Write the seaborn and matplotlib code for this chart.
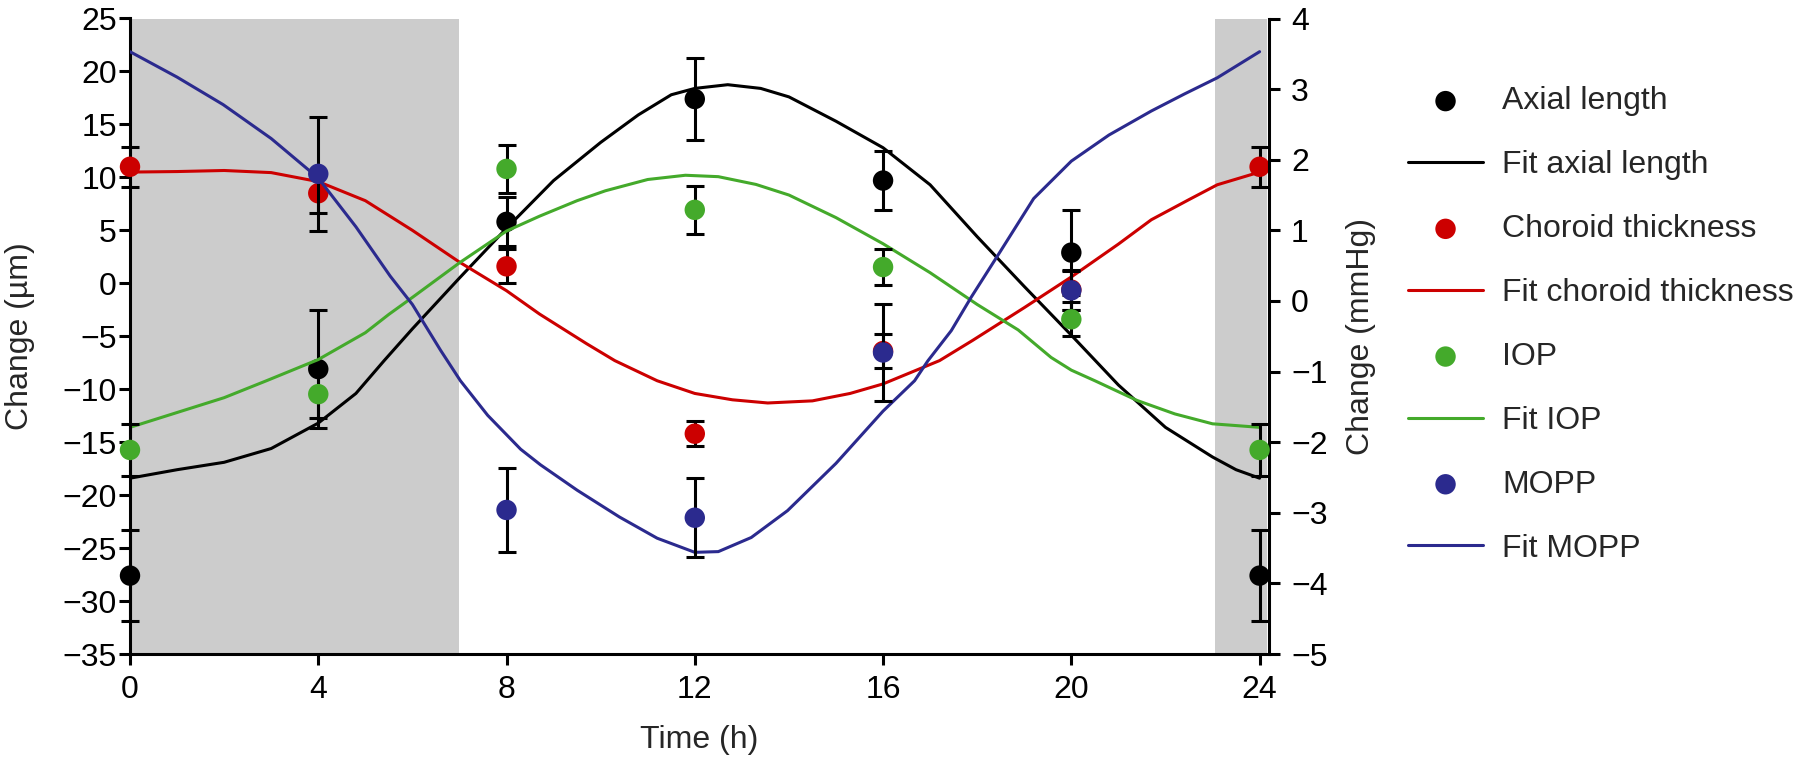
import matplotlib
matplotlib.use("Agg")
import matplotlib.pyplot as plt
import seaborn as sns

sns.set_theme(style="ticks")
plt.rcParams['font.family'] = ['Liberation Sans', 'DejaVu Sans']
plt.rcParams['axes.unicode_minus'] = True

# ---------------- data ----------------
times = [0, 4, 8, 12, 16, 20, 24]
axial = [-27.6, -8.1, 5.8, 17.4, 9.7, 2.9, -27.6]
axial_err = [4.3, 5.6, 2.3, 3.9, 2.75, 4.0, 4.3]
choroid = [11.0, 8.5, 1.6, -14.2, -6.4, -0.6, 11.0]
choroid_err = [1.9, 1.9, 1.6, 1.2, 1.6, 1.9, 1.9]
iop = [-2.11, -1.32, 1.87, 1.29, 0.48, -0.26, -2.11]
iop_err = [0.37, 0.34, 0.34, 0.34, 0.25, 0.24, 0.37]
mopp_times = [4, 8, 12, 16, 20]
mopp = [1.80, -2.96, -3.07, -0.73, 0.15]
mopp_err = [0.81, 0.60, 0.56, 0.68, 0.28]

# fitted curves
fit_axial_t = [0, 1, 2, 3, 4, 4.8, 5.4, 6, 7, 8, 9, 10, 10.8, 11.5, 12, 12.7, 13.4,
               14, 15, 16, 17, 18, 19, 20, 21, 22, 23, 23.5, 24]
fit_axial = [-18.4, -17.6, -16.9, -15.6, -13.2, -10.4, -7.3, -4.3, 0.5, 5.2, 9.7,
             13.3, 15.9, 17.8, 18.4, 18.75, 18.4, 17.6, 15.3, 12.8, 9.3, 4.4, -0.3,
             -4.9, -9.6, -13.6, -16.4, -17.6, -18.4]
fit_choroid_t = [0, 1, 2, 3, 4, 5, 5.5, 6, 7, 8, 8.7, 9.7, 10.3, 11.2, 12, 12.8,
                 13.55, 14.5, 15.3, 16, 17.2, 17.9, 19, 20, 21, 21.7, 22.5, 23.1, 24]
fit_choroid = [10.5, 10.55, 10.65, 10.45, 9.6, 7.8, 6.4, 5.0, 2.0, -0.7, -2.9, -5.7,
               -7.3, -9.2, -10.4, -11.0, -11.3, -11.1, -10.4, -9.5, -7.3, -5.4, -2.3,
               0.6, 3.7, 6.0, 7.9, 9.3, 10.5]
fit_iop_t = [0, 1, 2, 2.9, 4, 5, 5.5, 6, 7, 8, 8.7, 9.5, 10.1, 11, 11.8, 12.5, 13.3,
             14, 15, 16, 17, 18, 18.87, 19.57, 20, 20.5, 21.4, 22.2, 23, 24]
fit_iop = [-1.79, -1.58, -1.37, -1.13, -0.83, -0.45, -0.19, 0.05, 0.54, 0.99, 1.20,
           1.42, 1.56, 1.72, 1.78, 1.76, 1.65, 1.50, 1.18, 0.81, 0.40, -0.05, -0.41,
           -0.80, -0.98, -1.13, -1.41, -1.60, -1.74, -1.79]
fit_mopp_t = [0, 1, 1.98, 3, 4, 4.8, 5.53, 6, 6.6, 7.02, 7.6, 8.3, 8.72, 9.5, 10.4,
              11.2, 12, 12.5, 13.2, 13.97, 15, 16, 16.67, 16.95, 17.45, 17.87, 18.5,
              19.2, 20, 20.8, 21.7, 22.4, 23.1, 24]
fit_mopp = [3.53, 3.17, 2.78, 2.30, 1.74, 1.05, 0.35, -0.05, -0.70, -1.13, -1.62,
            -2.10, -2.32, -2.68, -3.06, -3.36, -3.56, -3.55, -3.35, -2.97, -2.30,
            -1.56, -1.13, -0.85, -0.42, 0.05, 0.71, 1.45, 1.98, 2.35, 2.69, 2.93,
            3.16, 3.53]

dark_spans = [(0, 7.0), (23.05, 24.15)]

x_ticks = [0, 4, 8, 12, 16, 20, 24]
left_ticks = list(range(-35, 26, 5))
right_ticks = list(range(-5, 5))

C_AX = "#000000"
C_CH = "#cc0000"
C_IOP = "#44aa2b"
C_MOPP = "#2b2a8e"

FS = 11.5
LW = 1.1
MS = 54

fig = plt.figure(figsize=(9, 3.81), dpi=200)
ax = fig.add_axes([130 / 1800, 1 - 654 / 762, (1269 - 130) / 1800, (654 - 18.5) / 762])
ax2 = ax.twinx()

for a, b in dark_spans:
    ax.axvspan(a, b, color="#cccccc", lw=0, zorder=0)

ekw = dict(fmt="none", ecolor="black", elinewidth=LW, capsize=3.2, capthick=LW,
           clip_on=False, zorder=3)

# left axis (µm)
ax.errorbar(times, axial, yerr=axial_err, **ekw)
ax.errorbar(times, choroid, yerr=choroid_err, **ekw)
sns.lineplot(x=fit_axial_t, y=fit_axial, ax=ax, color=C_AX, lw=LW,
             label="Fit axial length", zorder=2)
sns.lineplot(x=fit_choroid_t, y=fit_choroid, ax=ax, color=C_CH, lw=LW,
             label="Fit choroid thickness", zorder=2)
sns.scatterplot(x=times, y=axial, ax=ax, color=C_AX, s=MS, edgecolor="none",
                label="Axial length", zorder=4, clip_on=False)
sns.scatterplot(x=times, y=choroid, ax=ax, color=C_CH, s=MS, edgecolor="none",
                label="Choroid thickness", zorder=4, clip_on=False)

# right axis (mmHg)
ax2.errorbar(times, iop, yerr=iop_err, **ekw)
ax2.errorbar(mopp_times, mopp, yerr=mopp_err, **ekw)
sns.lineplot(x=fit_iop_t, y=fit_iop, ax=ax2, color=C_IOP, lw=LW, label="Fit IOP", zorder=2)
sns.lineplot(x=fit_mopp_t, y=fit_mopp, ax=ax2, color=C_MOPP, lw=LW, label="Fit MOPP", zorder=2)
sns.scatterplot(x=times, y=iop, ax=ax2, color=C_IOP, s=MS, edgecolor="none", label="IOP",
                zorder=4, clip_on=False)
sns.scatterplot(x=mopp_times, y=mopp, ax=ax2, color=C_MOPP, s=MS, edgecolor="none",
                label="MOPP", zorder=4, clip_on=False)

ax.set_xlim(0, 24.2)
ax.set_ylim(-35, 25)
ax2.set_ylim(-5, 4)
ax.set_xticks(x_ticks)
ax.set_yticks(left_ticks)
ax2.set_yticks(right_ticks)

for a in (ax, ax2):
    a.spines["top"].set_visible(False)
    for s in a.spines.values():
        s.set_linewidth(LW)
        s.set_color("black")
    a.tick_params(direction="out", length=3.9, width=LW, color="black", labelsize=FS,
                  labelcolor="black")
ax.spines["right"].set_visible(False)
ax2.spines["left"].set_visible(False)
ax2.spines["bottom"].set_visible(False)
ax.tick_params(axis="y", pad=0.8)
ax.tick_params(axis="x", pad=3.5)
ax2.tick_params(axis="y", pad=4)

ax.set_xlabel("Time (h)", fontsize=FS)
ax.xaxis.set_label_coords(0.5, -0.112)
ax.set_ylabel("Change (µm)", fontsize=FS)
ax.yaxis.set_label_coords(-0.0835, 0.5)
ax2.set_ylabel("Change (mmHg)", fontsize=FS)
ax2.yaxis.set_label_coords(1.0675, 0.5)

# legend
h1, l1 = ax.get_legend_handles_labels()
h2, l2 = ax2.get_legend_handles_labels()
hmap = dict(zip(l1 + l2, h1 + h2))
order = ["Axial length", "Fit axial length", "Choroid thickness", "Fit choroid thickness",
         "IOP", "Fit IOP", "MOPP", "Fit MOPP"]
for a in (ax, ax2):
    lg = a.get_legend()
    if lg is not None:
        lg.remove()
fig.legend([hmap[k] for k in order], order, loc="upper left",
           bbox_to_anchor=(1408 / 1800, 1 - 86.5 / 762), frameon=False, fontsize=FS,
           handlelength=2.35, handletextpad=0.6, labelspacing=1.06, borderpad=0,
           borderaxespad=0)

fig.savefig("out.png", dpi=200)
